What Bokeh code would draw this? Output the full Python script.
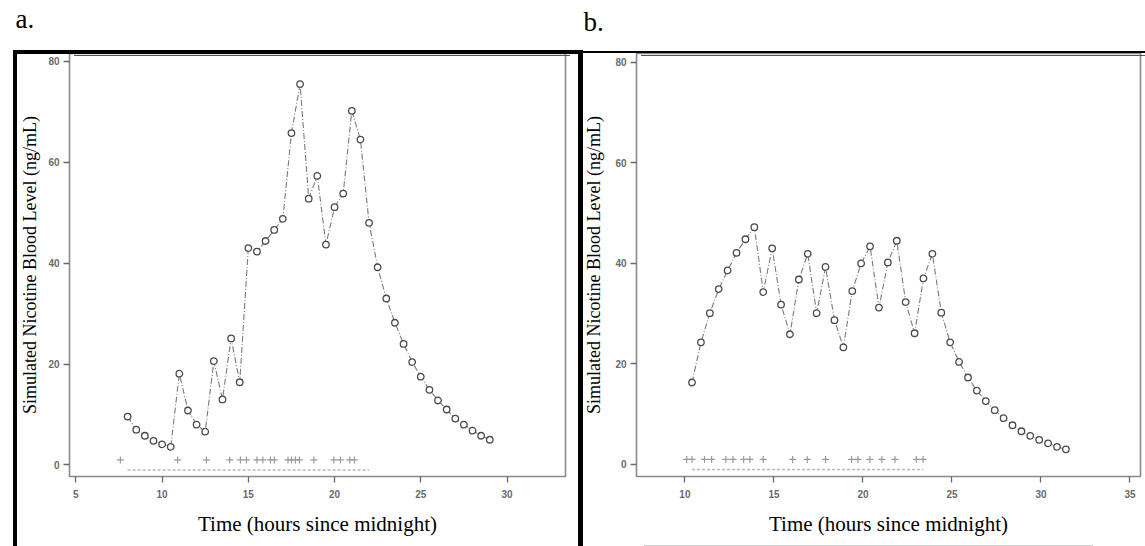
from bokeh.plotting import figure
from bokeh.layouts import row, column
from bokeh.models import FixedTicker, Range1d, Div, Title
from bokeh.embed import file_html
from bokeh.resources import INLINE

# ---------------- data ----------------
a_time = [8.0, 8.5, 9.0, 9.5, 10.0, 10.5, 11.0, 11.5, 12.0, 12.5, 13.0, 13.5, 14.0, 14.5,
          15.0, 15.5, 16.0, 16.5, 17.0, 17.5, 18.0, 18.5, 19.0, 19.5, 20.0, 20.5, 21.0, 21.5,
          22.0, 22.5, 23.0, 23.5, 24.0, 24.5, 25.0, 25.5, 26.0, 26.5, 27.0, 27.5, 28.0, 28.5, 29.0]
a_level = [9.6, 7.0, 5.8, 4.8, 4.1, 3.6, 18.1, 10.8, 8.0, 6.6, 20.6, 13.0, 25.1, 16.4,
           43.0, 42.3, 44.4, 46.6, 48.8, 65.8, 75.5, 52.8, 57.3, 43.7, 51.1, 53.8, 70.2, 64.5,
           48.0, 39.2, 33.0, 28.2, 24.0, 20.4, 17.5, 14.9, 12.8, 11.0, 9.2, 8.0, 6.8, 5.8, 5.0]
a_cig_time = [7.58, 10.9, 12.57, 13.92, 14.54, 14.89, 15.5, 15.84, 16.28, 16.51,
              17.3, 17.5, 17.73, 17.96, 18.8, 19.96, 20.34, 20.88, 21.15]
a_window = [8.0, 22.0]

b_time = [10.4, 10.9, 11.4, 11.9, 12.4, 12.9, 13.4, 13.9, 14.4, 14.9, 15.4, 15.9, 16.4, 16.9,
          17.4, 17.9, 18.4, 18.9, 19.4, 19.9, 20.4, 20.9, 21.4, 21.9, 22.4, 22.9, 23.4, 23.9,
          24.4, 24.9, 25.4, 25.9, 26.4, 26.9, 27.4, 27.9, 28.4, 28.9, 29.4, 29.9, 30.4, 30.9, 31.4]
b_level = [16.3, 24.3, 30.1, 34.9, 38.6, 42.1, 44.8, 47.2, 34.3, 43.0, 31.8, 25.9, 36.8, 41.9,
           30.1, 39.3, 28.7, 23.3, 34.5, 40.0, 43.4, 31.2, 40.2, 44.5, 32.3, 26.1, 37.0, 41.9,
           30.2, 24.3, 20.4, 17.3, 14.7, 12.6, 10.8, 9.2, 7.8, 6.6, 5.7, 4.9, 4.2, 3.5, 3.0]
b_cig_time = [10.1, 10.4, 11.1, 11.5, 12.3, 12.7, 13.3, 13.65, 14.4, 16.05, 16.87, 17.9,
              19.36, 19.72, 20.39, 21.06, 21.8, 23.0, 23.38]
b_window = [10.4, 23.4]

cig_level = 1.0
window_level = -1.0

a_xticks = [5, 10, 15, 20, 25, 30]
b_xticks = [10, 15, 20, 25, 30, 35]
yticks = [0, 20, 40, 60, 80]

x_label = "Time (hours since midnight)"
y_label = "Simulated Nicotine Blood Level (ng/mL)"

SERIF = "Liberation Serif"
SANS = "Liberation Sans"


def make_panel(width, xr, yr, xticks, borders, time, level, cig, window,
               ylab_standoff, panel_title, title_offset, title_gap):
    p = figure(width=width, height=546, x_range=Range1d(*xr), y_range=Range1d(*yr),
               output_backend="svg", toolbar_location=None,
               min_border_left=borders[0], min_border_right=borders[1],
               min_border_top=borders[2], min_border_bottom=borders[3])
    p.background_fill_color = "white"
    p.border_fill_color = "white"
    p.outline_line_color = "#8a8a8a"
    p.outline_line_width = 1.6
    p.grid.visible = False

    # spacer between the frame and the panel letter
    p.add_layout(Title(text=" ", text_font_size="1px", standoff=title_gap), "above")

    p.title.text = panel_title
    p.title.text_font = SERIF
    p.title.text_font_size = "27px"
    p.title.text_font_style = "normal"
    p.title.text_color = "black"
    p.title.align = "left"
    p.title.vertical_align = "top"
    p.title.offset = title_offset
    p.title.standoff = 0

    p.xaxis.ticker = FixedTicker(ticks=xticks)
    p.yaxis.ticker = FixedTicker(ticks=yticks)
    for ax in (p.xaxis[0], p.yaxis[0]):
        ax.axis_line_color = None
        ax.major_tick_line_color = "#6a6a6a"
        ax.major_tick_line_width = 1.3
        ax.major_tick_in = 0
        ax.major_tick_out = 6
        ax.minor_tick_line_color = None
        ax.major_label_text_font = SANS
        ax.major_label_text_font_size = "10px"
        ax.major_label_text_font_style = "bold"
        ax.major_label_text_color = "#6a6a6a"
        ax.axis_label_text_font = SERIF
        ax.axis_label_text_font_style = "normal"
        ax.axis_label_text_color = "black"
    p.xaxis.major_label_standoff = 7
    p.yaxis.major_label_standoff = 4
    p.xaxis.axis_label = x_label
    p.xaxis.axis_label_text_font_size = "21px"
    p.xaxis.axis_label_standoff = 11
    p.yaxis.axis_label = y_label
    p.yaxis.axis_label_text_font_size = "18px"
    p.yaxis.axis_label_standoff = ylab_standoff

    p.line(time, level, line_color="#7a7a7a", line_width=1.1, line_dash="6 2 1 2")
    p.scatter(time, level, marker="circle", size=6.5, fill_color="white",
              line_color="#4a4a4a", line_width=1.3)
    p.scatter(cig, [cig_level] * len(cig), marker="cross", size=7,
              line_color="#9a9a9a", line_width=1.2)
    p.line(window, [window_level] * len(window), line_color="#b8b8b8",
           line_width=1.6, line_dash="3 2")
    return p


pa = make_panel(578, (4.63, 33.39), (-2.28, 81.57), a_xticks, (69, 13, 53, 70),
                a_time, a_level, a_cig_time, a_window, 5, "a.", -54, 15)
pb = make_panel(567, (7.28, 35.59), (-2.40, 81.76), b_xticks, (58, 5, 53, 68),
                b_time, b_level, b_cig_time, b_window, 8, "b.", -53, 12)


# decorative page rules (the black boxes around the two panels), drawn as an overlay
def rule(left, top, width, height, color):
    return (f'<div style="position:absolute;left:{left}px;top:{top}px;width:{width}px;'
            f'height:{height}px;background:{color};"></div>')


rules = "".join([
    rule(7.5, 45, 4.5, 501, "black"),
    rule(7.5, 45, 570.5, 4.3, "black"),
    rule(573.3, 45, 4.5, 501, "black"),
    rule(578, 45.7, 567, 2.7, "black"),
    rule(69, 50, 496, 1.3, "#555555"),
    rule(636, 50, 504, 1.3, "#555555"),
    rule(638.6, 540, 449, 2, "#d2d2d2"),
])
overlay = Div(text=rules, width=1145, height=546,
              styles={"position": "absolute", "left": "0px", "top": "0px",
                      "z-index": "10", "pointer-events": "none"})

layout = column(row(pa, pb, spacing=0), overlay, spacing=0,
                styles={"position": "relative"})
open("out.html", "w").write(file_html(layout, INLINE))
